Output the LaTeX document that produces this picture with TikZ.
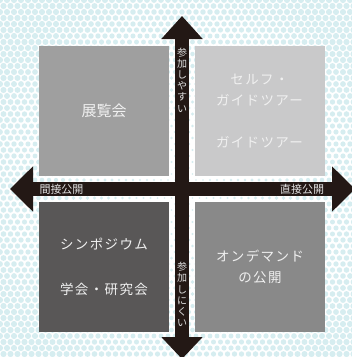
\documentclass[tikz,border=0pt]{standalone}
\usepackage{fontspec}
\usetikzlibrary{arrows.meta}
\newfontfamily\jp{Noto Sans CJK JP}
\newfontfamily\jpls[LetterSpace=10]{Noto Sans CJK JP}
\definecolor{dotc}{RGB}{214,237,240}
\definecolor{barc}{RGB}{35,24,21}
\definecolor{tlc}{RGB}{159,159,159}
\definecolor{trc}{RGB}{201,201,202}
\definecolor{blc}{RGB}{89,87,87}
\definecolor{brc}{RGB}{137,137,137}
\definecolor{txtc}{RGB}{240,240,240}
\definecolor{lblc}{RGB}{225,225,225}
\begin{document}
\begin{tikzpicture}[x=1pt,y=-1pt,
  quad/.style={minimum width=130pt,minimum height=130pt,inner sep=0pt,
    align=center,text=txtc,font=\jpls\fontsize{13.5}{21}\selectfont},
  axis/.style={barc,line width=14pt,
    {Triangle[width=44pt,length=23pt]}-{Triangle[width=44pt,length=23pt]}},
  vaxis/.style={barc,line width=14pt,
    {Triangle[width=40pt,length=23pt]}-{Triangle[width=40pt,length=22pt]}},
  vlbl/.style={align=center,inner sep=0pt,text=lblc,font=\jp\fontsize{10}{11.2}\selectfont},
  hlbl/.style={inner sep=0pt,text=lblc,font=\jp\fontsize{11}{13}\selectfont}]
\useasboundingbox (0,0) rectangle (352,357);
\begin{scope}
\clip (0,0) rectangle (352,357);
\fill[white] (0,0) rectangle (352,357);
\foreach \j in {0,...,60} {
  \foreach \i in {0,...,51} {
    \pgfmathsetmacro\px{\i*7+mod(\j,2)*3.5}
    \pgfmathsetmacro\py{\j*6}
    \pgfmathsetmacro\rr{0.7+2.4*min(veclen(\px-182,\py-189)/210,1)}
    \fill[dotc] (\px,\py) circle[radius=\rr];
  }
}
\end{scope}
% quadrant boxes
\node[quad,fill=tlc,font=\jp\fontsize{15}{21}\selectfont] (tl) at (104,111) {展覧会};
\node[quad,fill=trc] (tr) at (259.5,111) {セルフ・\\ガイドツアー\\[21pt]ガイドツアー};
\node[quad,fill=blc] (bl) at (104,267) {シンポジウム\\[24pt]学会・研究会};
\node[quad,fill=brc] (br) at (260,267) {オンデマンド\\の公開};
% axes
\coordinate (top) at (182,16);
\coordinate (bottom) at (182,359);
\coordinate (left) at (10,189);
\coordinate (right) at (355,189);
\draw[vaxis] (top) -- (bottom);
\draw[axis] (left) -- (right);
% axis labels
\node[vlbl] (easy) at (182,80) {参\\加\\し\\や\\す\\い};
\node[vlbl] (hard) at (182,294.5) {参\\加\\し\\に\\く\\い};
\node[hlbl] (indirect) at (61.5,189) {間接公開};
\node[hlbl] (direct) at (302,189) {直接公開};
\end{tikzpicture}
\end{document}
